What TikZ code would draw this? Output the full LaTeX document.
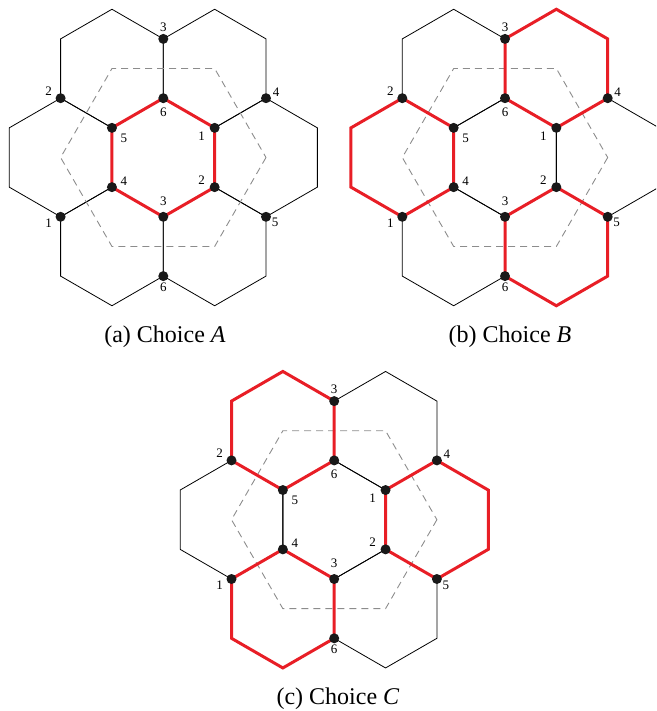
\documentclass[tikz,border=0pt]{standalone}
\usepackage{fontspec}
\setmainfont{Liberation Serif}
\usetikzlibrary{calc}
\definecolor{hexred}{RGB}{232,30,38}
\definecolor{dashgray}{RGB}{140,140,140}
\def\R{59.3}
\def\W{51.35}
\tikzset{
  thinline/.style={draw=black, line width=0.8pt},
  redline/.style={draw=hexred, line width=3pt},
  dashline/.style={draw=dashgray, line width=0.9pt, dash pattern=on 7pt off 5pt},
  vdot/.style={circle, fill=black!90, inner sep=0pt, minimum size=10pt},
  lab/.style={inner sep=0pt, font=\fontsize{13}{13}\selectfont},
  captext/.style={inner sep=0pt, anchor=base, font=\fontsize{24}{28}\selectfont}
}
\newcommand{\hexpath}[2]{%
  \draw[#2] (#1) ++(0,-\R) -- ++(\W,\R/2) -- ++(0,\R) -- ++(-\W,\R/2) -- ++(-\W,-\R/2) -- ++(0,-\R) -- cycle;}
\newcommand{\hexpanel}[4]{%
  \begin{scope}[shift={(#2,#3)}]
    \coordinate (#1-C) at (0,0);
    \coordinate (#1-TL) at (-\W,-1.5*\R);
    \coordinate (#1-TR) at (\W,-1.5*\R);
    \coordinate (#1-R) at (2*\W,0);
    \coordinate (#1-BR) at (\W,1.5*\R);
    \coordinate (#1-BL) at (-\W,1.5*\R);
    \coordinate (#1-L) at (-2*\W,0);
    \foreach \hh in {TL,TR,R,BR,BL,L,C} {\hexpath{#1-\hh}{thinline}}
    \draw[dashline] (#1-R) -- (#1-BR) -- (#1-BL) -- (#1-L) -- (#1-TL) -- (#1-TR) -- cycle;
    \foreach \hh in {#4} {\hexpath{#1-\hh}{redline}}
    % inner vertices
    \node[vdot] (#1-i6) at (0,-\R) {};
    \node[vdot] (#1-i1) at (\W,-\R/2) {};
    \node[vdot] (#1-i2) at (\W,\R/2) {};
    \node[vdot] (#1-i3) at (0,\R) {};
    \node[vdot] (#1-i4) at (-\W,\R/2) {};
    \node[vdot] (#1-i5) at (-\W,-\R/2) {};
    % outer vertices
    \node[vdot] (#1-o3) at (0,-2*\R) {};
    \node[vdot] (#1-o4) at (2*\W,-\R) {};
    \node[vdot] (#1-o5) at (2*\W,\R) {};
    \node[vdot] (#1-o6) at (0,2*\R) {};
    \node[vdot] (#1-o1) at (-2*\W,\R) {};
    \node[vdot] (#1-o2) at (-2*\W,-\R) {};
    % labels
    \node[lab] (#1-li6) at ($(#1-i6)+(0,14)$) {6};
    \node[lab] (#1-li1) at ($(#1-i1)+(-13,8)$) {1};
    \node[lab] (#1-li2) at ($(#1-i2)+(-13,-7)$) {2};
    \node[lab] (#1-li3) at ($(#1-i3)+(0,-16)$) {3};
    \node[lab] (#1-li4) at ($(#1-i4)+(12,-6)$) {4};
    \node[lab] (#1-li5) at ($(#1-i5)+(12,10)$) {5};
    \node[lab] (#1-lo3) at ($(#1-o3)+(0,-12)$) {3};
    \node[lab] (#1-lo4) at ($(#1-o4)+(10,-6)$) {4};
    \node[lab] (#1-lo5) at ($(#1-o5)+(9,6)$) {5};
    \node[lab] (#1-lo6) at ($(#1-o6)+(0,11)$) {6};
    \node[lab] (#1-lo1) at ($(#1-o1)+(-12,6)$) {1};
    \node[lab] (#1-lo2) at ($(#1-o2)+(-12,-7)$) {2};
  \end{scope}}
\begin{document}
\begin{tikzpicture}[x=1pt,y=-1pt]
  \useasboundingbox (0,0) rectangle (656,711);
  \clip (0,0) rectangle (656,711);
  \hexpanel{A}{163.3}{157.5}{C}
  \hexpanel{B}{505}{157.5}{TR,L,BR}
  \hexpanel{Cc}{334.2}{519.7}{TL,R,BL}
  \node[captext] (capA) at (165,342) {(a) Choice \textit{A}};
  \node[captext] (capB) at (510,342) {(b) Choice \textit{B}};
  \node[captext] (capC) at (338,704) {(c) Choice \textit{C}};
\end{tikzpicture}
\end{document}
